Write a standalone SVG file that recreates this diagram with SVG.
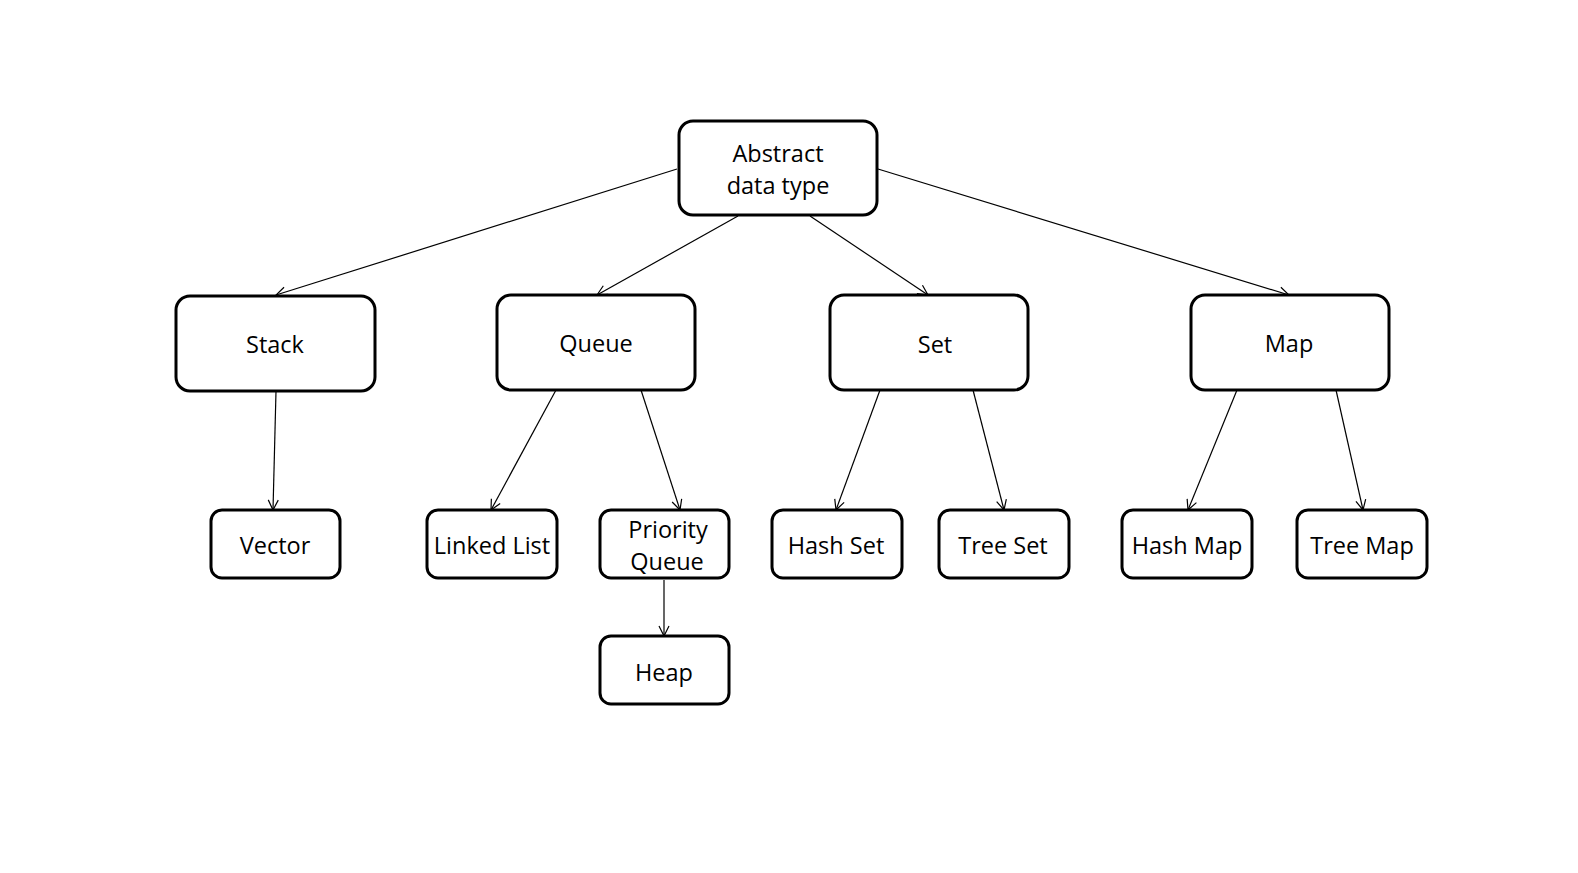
<svg xmlns="http://www.w3.org/2000/svg" width="1578" height="873" viewBox="0 0 1578 873">
<style>
.n rect{fill:#fff;stroke:#000;stroke-width:3}
.n text{font-family:"Open Sans","Noto Sans","Liberation Sans",sans-serif;font-size:23.5px;fill:#000;text-anchor:middle;dominant-baseline:central}
#edges line{stroke:#000;stroke-width:1.2;marker-end:url(#ah)}
</style>
<defs>
<marker id="ah" viewBox="0 0 12 12" refX="11" refY="6" markerWidth="12" markerHeight="12" markerUnits="userSpaceOnUse" orient="auto">
<path d="M1,1 L11,6 L1,11" fill="none" stroke="#000" stroke-width="1.2"/>
</marker>
</defs>
<rect width="1578" height="873" fill="#fff"/>
<g id="edges">
<line x1="677" y1="169" x2="276" y2="295"/>
<line x1="738" y1="216" x2="597" y2="295"/>
<line x1="810" y1="216" x2="928" y2="295"/>
<line x1="878" y1="169" x2="1289" y2="295"/>
<line x1="276" y1="391" x2="273" y2="510"/>
<line x1="556" y1="390" x2="491" y2="510"/>
<line x1="641" y1="390" x2="680" y2="510"/>
<line x1="880" y1="390" x2="836" y2="510"/>
<line x1="973" y1="390" x2="1004" y2="510"/>
<line x1="1237" y1="390" x2="1188" y2="510"/>
<line x1="1336" y1="390" x2="1363" y2="510"/>
<line x1="664" y1="580" x2="664" y2="636"/>
</g>
<g id="adt" class="n"><rect x="679" y="121" width="198" height="94" rx="14"/><text x="778" y="153">Abstract</text><text x="778" y="185">data type</text></g>
<g id="stack" class="n"><rect x="176" y="296" width="199" height="95" rx="14"/><text x="275" y="344">Stack</text></g>
<g id="queue" class="n"><rect x="497" y="295" width="198" height="95" rx="14"/><text x="596" y="343">Queue</text></g>
<g id="set" class="n"><rect x="830" y="295" width="198" height="95" rx="14"/><text x="935" y="344">Set</text></g>
<g id="map" class="n"><rect x="1191" y="295" width="198" height="95" rx="14"/><text x="1289" y="343">Map</text></g>
<g id="vector" class="n"><rect x="211" y="510" width="129" height="68" rx="11"/><text x="275" y="545">Vector</text></g>
<g id="linkedlist" class="n"><rect x="427" y="510" width="130" height="68" rx="11"/><text x="492" y="545">Linked List</text></g>
<g id="pq" class="n"><rect x="600" y="510" width="129" height="68" rx="11"/><text x="668" y="529">Priority</text><text x="667" y="561">Queue</text></g>
<g id="heap" class="n"><rect x="600" y="636" width="129" height="68" rx="11"/><text x="664" y="672">Heap</text></g>
<g id="hashset" class="n"><rect x="772" y="510" width="130" height="68" rx="11"/><text x="836" y="545">Hash Set</text></g>
<g id="treeset" class="n"><rect x="939" y="510" width="130" height="68" rx="11"/><text x="1003" y="545">Tree Set</text></g>
<g id="hashmap" class="n"><rect x="1122" y="510" width="130" height="68" rx="11"/><text x="1187" y="545">Hash Map</text></g>
<g id="treemap" class="n"><rect x="1297" y="510" width="130" height="68" rx="11"/><text x="1362" y="545">Tree Map</text></g>
</svg>
